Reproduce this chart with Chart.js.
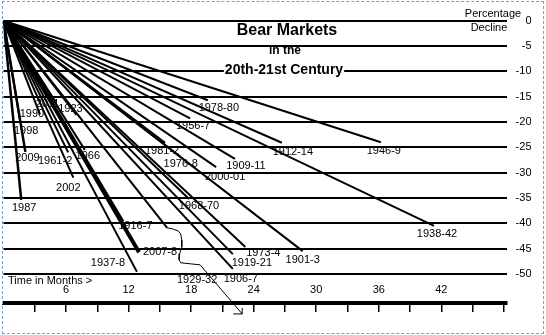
<!DOCTYPE html>
<html>
<head>
<meta charset="utf-8">
<title>Bear Markets</title>
<script src="https://cdn.jsdelivr.net/npm/chart.js@4"></script>
<style>
  html, body { margin: 0; padding: 0; background: #fff; }
  #wrap { position: relative; width: 546px; height: 335px; }
  #frame { position: absolute; left: 2px; top: 1px; right: 2px; bottom: 1px; border: 1px dashed #7f9dc4; pointer-events: none; }
</style>
</head>
<body>
<div id="wrap">
  <canvas id="chartCanvas" width="546" height="335"></canvas>
  <div id="frame"></div>
</div>
<script>
// Each bear market: its name, its length in months and its decline in percent
const markets = ['1946-9', '1938-42', '1912-14', '1978-80', '1956-7', '1981-2', '1976-8', '1909-11', '2000-01',
    '1968-70', '1973-4', '1919-21', '1906-7', '1901-3', '1929-32', '2007-8', '1937-8', '1916-7',
    '1987', '2002', '2009', '1961-2', '1966', '1998', '1990', '2011', '1923'];
const months = [36.2, 41.3, 26.7, 19.6, 17.9, 15.5, 17.0, 22.2, 20.4,
    17.8, 23.2, 22.0, 22.0, 28.7, 15.7, 13.0, 12.8, 11.5,
    1.7, 6.7, 2.1, 6.2, 7.8, 1.6, 3.5, 5.0, 7.0];
const declines = [-24.0, -40.5, -24.1, -15.7, -19.3, -24.1, -26.9, -27.3, -28.9,
    -35.2, -44.7, -46.1, -49.0, -45.5, -40.9, -45.7, -49.6, -39.6,
    -35.4, -31.0, -25.9, -26.0, -25.5, -19.8, -18.5, -16.0, -18.6];

// 1929-32 runs off the scale: the squiggle and the arrow that carry it on
const offScaleMonths = [15.7, 16.2, 16.75, 17.0, 17.1, 17.1, 16.9, 16.85, 17.0, 17.9, 18.85, 22.9];
const offScalePct = [-40.9, -41.1, -41.5, -42.1, -43.3, -44.7, -46.0, -47.2, -47.8, -48.0, -48.2, -57.9];
const arrowMonths = [22.05, 22.9, 22.9];
const arrowPct = [-57.9, -57.9, -56.7];

// Axis ticks
const tickMonths = [3, 6, 9, 12, 15, 18, 21, 24, 27, 30, 33, 36, 39, 42, 45, 48];
const monthLabels = [6, 12, 18, 24, 30, 36, 42];
const pctTicks = [0, -5, -10, -15, -20, -25, -30, -35, -40, -45, -50];
const axisPct = -55.8;   // where the month axis crosses

// where each name sits, in pixels from the end of its line
const labelOffset = {
    '1946-9': [3, 9], '1938-42': [3, 8], '1912-14': [11, 9], '1978-80': [11, 8], '1956-7': [3, 8],
    '1981-2': [-3, 8], '1976-8': [0, 7], '1909-11': [11, 7], '2000-01': [9, 10], '1968-70': [10, 7],
    '1973-4': [18, 6], '1919-21': [19, 9], '1906-7': [8, 10], '1901-3': [0, 9], '1929-32': [30, 52],
    '2007-8': [21, 0], '1937-8': [-29, -9], '1916-7': [12, 5], '1987': [3, 8], '2002': [-5, 10],
    '2009': [2, 6], '1961-2': [-13, 9], '1966': [3, 6], '1998': [6, 10], '1990': [-8, 0],
    '2011': [-8, 2], '1923': [-6, -6]
};
const heavy = { '2007-8': 4, '1987': 2.5, '2009': 2.5 };

const FONT = '"Liberation Sans", Arial, sans-serif';
Chart.defaults.font.family = FONT;
Chart.defaults.font.size = 11;
Chart.defaults.color = '#000';

const datasets = markets.map((name, i) => ({
    tag: name,
    data: [{ x: 0, y: 0 }, { x: months[i], y: declines[i] }],
    borderColor: '#000',
    borderWidth: heavy[name] || 2,
    pointRadius: 0,
    showLine: true
}));
datasets.push({
    data: offScaleMonths.map((m, i) => ({ x: m, y: offScalePct[i] })),
    borderColor: '#000', borderWidth: 1, pointRadius: 0, showLine: true, clip: false
});
datasets.push({
    data: arrowMonths.map((m, i) => ({ x: m, y: arrowPct[i] })),
    borderColor: '#000', borderWidth: 1, pointRadius: 0, showLine: true, clip: false
});

/**
 * Names at the line ends, plus the title and axis captions
 */
const annotations = {
    id: 'annotations',
    afterDatasetsDraw(chart) {
        const ctx = chart.ctx;
        ctx.save();
        ctx.fillStyle = '#000';
        ctx.textAlign = 'center';
        ctx.textBaseline = 'middle';
        ctx.font = '11px ' + FONT;
        chart.data.datasets.forEach((ds, i) => {
            if (!ds.tag) return;
            const end = chart.getDatasetMeta(i).data[1];
            const off = labelOffset[ds.tag] || [0, 8];
            ctx.fillText(ds.tag, end.x + off[0], end.y + off[1]);
        });

        ctx.fillText('Percentage', 493, 14);
        ctx.fillText('Decline', 489, 28);
        ctx.textAlign = 'left';
        ctx.fillText('Time in Months >', 8, 280.5);

        ctx.textAlign = 'center';
        ctx.font = 'bold 16px ' + FONT;
        ctx.fillText('Bear Markets', 287, 30.5);
        ctx.font = 'bold 12px ' + FONT;
        ctx.fillText('in the', 285, 51);
        ctx.font = 'bold 14px ' + FONT;
        const w = ctx.measureText('20th-21st Century').width;
        ctx.fillStyle = '#fff';
        ctx.fillRect(284 - w / 2 - 1, 62, w + 2, 15);
        ctx.fillStyle = '#000';
        ctx.fillText('20th-21st Century', 284, 70);
        ctx.restore();
    }
};

new Chart(document.getElementById('chartCanvas'), {
    type: 'scatter',
    data: { datasets: datasets },
    options: {
        responsive: false,
        animation: false,
        layout: { padding: { left: 3.5, top: 20.7, right: 14.5, bottom: 31.7 } },
        plugins: { legend: { display: false }, tooltip: { enabled: false } },
        scales: {
            x: {
                type: 'linear',
                position: { y: axisPct },
                min: 0,
                max: 48.3,
                afterBuildTicks: s => { s.ticks = tickMonths.map(v => ({ value: v })); },
                afterFit: s => { s.height = 31.7; },
                border: { display: true, color: '#000', width: 4 },
                grid: { drawOnChartArea: false, drawTicks: true, tickLength: 7, color: '#000', lineWidth: 1.5 },
                ticks: {
                    autoSkip: false,
                    maxRotation: 0,
                    padding: -26.5,
                    callback: v => monthLabels.includes(v) ? v : ''
                }
            },
            y: {
                type: 'linear',
                position: 'right',
                min: axisPct,
                max: 0,
                afterBuildTicks: s => { s.ticks = pctTicks.map(v => ({ value: v })); },
                afterFit: s => { s.width = 24.5; },
                border: { display: false },
                grid: { drawTicks: false, color: '#000', lineWidth: 2 },
                ticks: { crossAlign: 'far', padding: 8 }
            }
        }
    },
    plugins: [annotations]
});
</script>
</body>
</html>
